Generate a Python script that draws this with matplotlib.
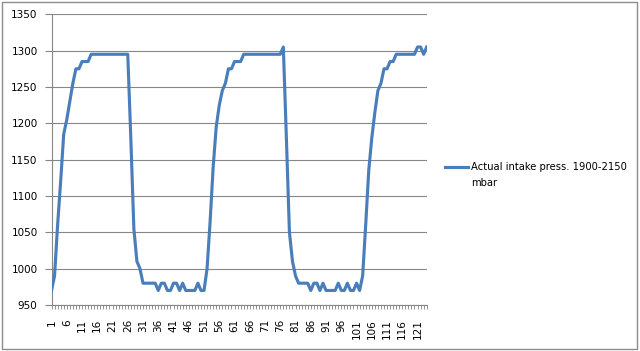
import numpy as np
import matplotlib
matplotlib.use("Agg")
import matplotlib.pyplot as plt
from matplotlib.lines import Line2D
from matplotlib.patches import Rectangle

categories = list(range(1, 125))
pressure = [
    970, 990, 1060, 1120, 1185, 1205, 1230, 1255, 1275, 1275,
    1285, 1285, 1285, 1295, 1295, 1295, 1295, 1295, 1295, 1295,
    1295, 1295, 1295, 1295, 1295, 1295, 1180, 1055, 1010, 1000,
    980, 980, 980, 980, 980, 970, 980, 980, 970, 970,
    980, 980, 970, 980, 970, 970, 970, 970, 980, 970,
    970, 1000, 1065, 1140, 1195, 1225, 1245, 1255, 1275, 1275,
    1285, 1285, 1285, 1295, 1295, 1295, 1295, 1295, 1295, 1295,
    1295, 1295, 1295, 1295, 1295, 1295, 1305, 1180, 1050, 1010,
    990, 980, 980, 980, 980, 970, 980, 980, 970, 980,
    970, 970, 970, 970, 980, 970, 970, 980, 970, 970,
    980, 970, 990, 1060, 1135, 1180, 1215, 1245, 1255, 1275,
    1275, 1285, 1285, 1295, 1295, 1295, 1295, 1295, 1295, 1295,
    1305, 1305, 1295, 1305,
]
y_ticks = [950, 1000, 1050, 1100, 1150, 1200, 1250, 1300, 1350]
x_label_cats = categories[::5]
series_name = "Actual intake press. 1900-2150"
series_name2 = "mbar"

W, H = 640, 351
fig = plt.figure(figsize=(W / 100, H / 100), dpi=100)
fig.patch.set_facecolor("white")

def px(x, y):
    return x / W, 1 - y / H

left, right, top, bottom = 51.5, 426.7, 14.3, 305.0
ax = fig.add_axes([left / W, 1 - bottom / H, (right - left) / W, (bottom - top) / H])

blue = "#4A7EBB"
grid = "#868686"
ax.plot(categories, pressure, color=blue, lw=2.25, solid_joinstyle="round", zorder=3)

ax.set_xlim(1, 124)
ax.set_ylim(950, 1350)
ax.set_yticks(y_ticks)
ax.set_yticklabels([str(v) for v in y_ticks])
ax.yaxis.grid(True, color=grid, lw=0.8)
ax.set_axisbelow(True)

ax.set_xticks(categories, minor=True)
ax.set_xticks(x_label_cats)
ax.set_xticklabels([str(c) for c in x_label_cats], rotation=90, ha="center", va="top")

for s in ["top", "right"]:
    ax.spines[s].set_visible(False)
for s in ["left", "bottom"]:
    ax.spines[s].set_color(grid)
    ax.spines[s].set_linewidth(0.8)

ax.tick_params(axis="y", length=5, width=0.8, color=grid, labelsize=7.5, pad=5, labelcolor="#000000")
ax.tick_params(axis="x", which="both", length=3, width=0.6, color=grid, direction="out")
ax.tick_params(axis="x", which="major", labelsize=7.5, pad=7, labelcolor="#000000")

# legend
x0, y0 = px(445, 166.7)
x1, _ = px(468, 166.7)
fig.add_artist(Line2D([x0, x1], [y0, y0], color=blue, lw=2.25, transform=fig.transFigure))
tx, ty = px(471, 166.7)
fig.text(tx, ty, series_name, fontsize=7.2, va="center", ha="left", color="#000000")
tx2, ty2 = px(471, 183)
fig.text(tx2, ty2, series_name2, fontsize=7.2, va="center", ha="left", color="#000000")

# chart border
bx, by = px(1.5, 348.5)
fig.add_artist(Rectangle((bx, by), (636.5 - 1.5) / W, (348.5 - 1.5) / H, transform=fig.transFigure,
                         fill=False, edgecolor="#8c8c8c", lw=1))

fig.savefig("out.png", dpi=100)
